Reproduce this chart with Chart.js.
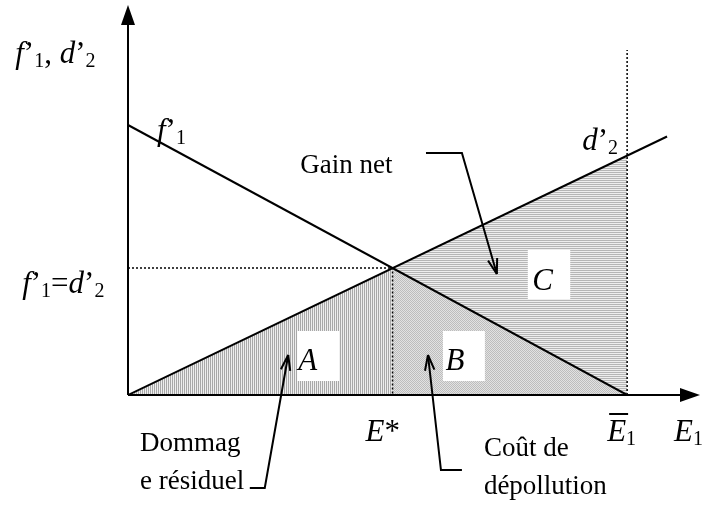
<!DOCTYPE html>
<html>
<head>
<meta charset="utf-8">
<script src="https://cdn.jsdelivr.net/npm/chart.js@4"></script>
<style>
  body { margin: 0; background: #fff; }
  #wrap { width: 707px; height: 517px; }
</style>
</head>
<body>
<div id="wrap"><canvas id="chart" width="707" height="517"></canvas></div>
<script>
// emissions: 0, E*, E1 bar, end of the d'2 line
const emissions = [0, 53, 100, 108];
const marginalBenefit = [54, 25.4, 0];        // f'1
const marginalDamage = [0, 25.4, 47.9, 51.7];  // d'2
const xMax = 114.6;
const yMax = 78;
const dottedTop = 69;

function stripes(kind) {
  const c = document.createElement('canvas');
  c.width = 4; c.height = 4;
  const g = c.getContext('2d');
  g.fillStyle = kind === 'd' ? '#e2e2e2' : '#eeeeee';
  g.fillRect(0, 0, 4, 4);
  for (let i = 0; i < 4; i++) {
    if (kind === 'v') { g.fillStyle = '#a8a8a8'; if (i % 2 === 0) g.fillRect(i, 0, 1, 4); }
    if (kind === 'h') { g.fillStyle = '#b6b6b6'; if (i % 2 === 0) g.fillRect(0, i, 4, 1); }
    if (kind === 'd') { g.fillStyle = '#bdbdbd'; g.fillRect(i, i, 1, 1); g.fillRect((i + 2) % 4, i, 1, 1); }
  }
  return g.createPattern(c, 'repeat');
}

const pt = (i, arr) => ({ x: emissions[i], y: arr[i] });

const boxes = [
  { x0: 33.9, x1: 42.3, y0: 2.8, y1: 12.8, letter: 'A', lx: 34.1, ly: 5.0 },
  { x0: 63.1, x1: 71.5, y0: 2.8, y1: 12.8, letter: 'B', lx: 63.6, ly: 5.0 },
  { x0: 80.1, x1: 88.6, y0: 19.2, y1: 29.0, letter: 'C', lx: 81.0, ly: 21.0 }
];

const arrows = [
  [[59.7, 48.4], [66.9, 48.4], [73.9, 24.2]],
  [[24.4, -18.6], [27.4, -18.6], [32.1, 8.0]],
  [[66.9, -15.0], [62.7, -15.0], [60.1, 8.0]]
];

// rich labels: [text, italic, subscript]
const labels = [
  { x: -22.6, y: 66.4, parts: [['f', 1], ['’', 0], ['1', 0, 1], [', ', 0], ['d', 1], ['’', 0], ['2', 0, 1]] },
  { x: 5.8, y: 51, parts: [['f', 1], ['’', 0], ['1', 0, 1]] },
  { x: 91.0, y: 49, parts: [['d', 1], ['’', 0], ['2', 0, 1]] },
  { x: -21.2, y: 20.4, parts: [['f', 1], ['’', 0], ['1', 0, 1], ['=', 0], ['d', 1], ['’', 0], ['2', 0, 1]] },
  { x: 47.6, y: -9.2, parts: [['E', 1], ['*', 0]] },
  { x: 96.0, y: -9.2, parts: [['E', 1], ['1', 0, 1]], bar: true },
  { x: 109.4, y: -9.2, parts: [['E', 1], ['1', 0, 1]] },
  { x: 34.5, y: 44.4, parts: [['Gain net', 0]], plain: true },
  { x: 2.4, y: -11.2, parts: [['Dommag', 0]], plain: true },
  { x: 2.4, y: -18.8, parts: [['e résiduel', 0]], plain: true },
  { x: 71.3, y: -12.2, parts: [['Coût de', 0]], plain: true },
  { x: 71.3, y: -19.8, parts: [['dépollution', 0]], plain: true }
];

const FONT = '"Liberation Serif", "Times New Roman", serif';

const drawing = {
  id: 'drawing',
  afterDatasetsDraw(chart) {
    const ctx = chart.ctx;
    const sx = chart.scales.x, sy = chart.scales.y;
    const X = v => sx.getPixelForValue(v), Y = v => sy.getPixelForValue(v);
    ctx.save();

    // white boxes with letters
    boxes.forEach(b => {
      ctx.fillStyle = '#fff';
      ctx.fillRect(X(b.x0), Y(b.y1), X(b.x1) - X(b.x0), Y(b.y0) - Y(b.y1));
      ctx.fillStyle = '#000';
      ctx.font = 'italic 31px ' + FONT;
      ctx.textBaseline = 'alphabetic';
      ctx.fillText(b.letter, X(b.lx), Y(b.ly));
    });

    // axes with arrow heads
    ctx.strokeStyle = '#000';
    ctx.fillStyle = '#000';
    ctx.lineWidth = 2;
    ctx.beginPath();
    ctx.moveTo(X(0), Y(0)); ctx.lineTo(X(0), Y(yMax) + 15);
    ctx.moveTo(X(0), Y(0)); ctx.lineTo(X(xMax) - 15, Y(0));
    ctx.stroke();
    ctx.beginPath();
    ctx.moveTo(X(0), Y(yMax)); ctx.lineTo(X(0) - 7, Y(yMax) + 20); ctx.lineTo(X(0) + 7, Y(yMax) + 20);
    ctx.closePath(); ctx.fill();
    ctx.beginPath();
    ctx.moveTo(X(xMax), Y(0)); ctx.lineTo(X(xMax) - 20, Y(0) - 7); ctx.lineTo(X(xMax) - 20, Y(0) + 7);
    ctx.closePath(); ctx.fill();

    // callout arrows
    ctx.lineWidth = 2;
    arrows.forEach(a => {
      ctx.beginPath();
      a.forEach((p, i) => i ? ctx.lineTo(X(p[0]), Y(p[1])) : ctx.moveTo(X(p[0]), Y(p[1])));
      ctx.stroke();
      const [p1, p2] = a.slice(-2);
      const x2 = X(p2[0]), y2 = Y(p2[1]);
      const ang = Math.atan2(y2 - Y(p1[1]), x2 - X(p1[0]));
      ctx.beginPath();
      [-0.3, 0.3].forEach(d => {
        ctx.moveTo(x2, y2);
        ctx.lineTo(x2 - 16 * Math.cos(ang + d), y2 - 16 * Math.sin(ang + d));
      });
      ctx.stroke();
    });

    // text labels
    ctx.fillStyle = '#000';
    ctx.textBaseline = 'alphabetic';
    labels.forEach(l => {
      let x = X(l.x);
      const y = Y(l.y);
      let eStart = x, eEnd = x;
      const big = l.plain ? 27 : 31, small = 20;
      l.parts.forEach(([t, it, sub], k) => {
        ctx.font = (it ? 'italic ' : '') + (sub ? small : big) + 'px ' + FONT;
        ctx.fillText(t, x, y + (sub ? 4 : 0));
        const w = ctx.measureText(t).width;
        if (k === 0) eEnd = x + w;
        x += w;
      });
      if (l.bar) {
        ctx.lineWidth = 2;
        ctx.beginPath();
        ctx.moveTo(eStart + 2, y - 27); ctx.lineTo(eEnd + 2, y - 27);
        ctx.stroke();
      }
    });
    ctx.restore();
  }
};

new Chart(document.getElementById('chart'), {
  type: 'scatter',
  data: {
    datasets: [
      { data: [pt(0, marginalBenefit), pt(2, marginalBenefit)], showLine: true, borderColor: '#000', borderWidth: 2, pointRadius: 0, order: 0 },
      { data: [pt(0, marginalDamage), pt(3, marginalDamage)], showLine: true, borderColor: '#000', borderWidth: 2, pointRadius: 0, order: 0 },
      { data: [{ x: 0, y: marginalDamage[1] }, pt(1, marginalDamage), { x: emissions[1], y: 0 }], showLine: true, borderColor: '#000', borderWidth: 1.5, borderDash: [2, 2], pointRadius: 0, order: 1 },
      { data: [{ x: emissions[2], y: 0 }, { x: emissions[2], y: dottedTop }], showLine: true, borderColor: '#000', borderWidth: 1.5, borderDash: [2, 2], pointRadius: 0, order: 1 },
      { data: [pt(1, marginalBenefit), pt(2, marginalBenefit)], showLine: true, borderWidth: 0, pointRadius: 0, fill: 'origin', backgroundColor: stripes('d'), order: 2 },
      { data: [pt(1, marginalDamage), pt(2, marginalDamage)], showLine: true, borderWidth: 0, pointRadius: 0, fill: 'origin', backgroundColor: stripes('h'), order: 3 },
      { data: [pt(0, marginalDamage), pt(1, marginalDamage)], showLine: true, borderWidth: 0, pointRadius: 0, fill: 'origin', backgroundColor: stripes('v'), order: 3 }
    ]
  },
  options: {
    responsive: false,
    animation: false,
    events: [],
    layout: { padding: { left: 128, right: 7, top: 5, bottom: 122 } },
    plugins: { legend: { display: false }, tooltip: { enabled: false } },
    scales: {
      x: { type: 'linear', min: 0, max: xMax, display: false },
      y: { type: 'linear', min: 0, max: yMax, display: false }
    }
  },
  plugins: [drawing]
});
</script>
</body>
</html>
